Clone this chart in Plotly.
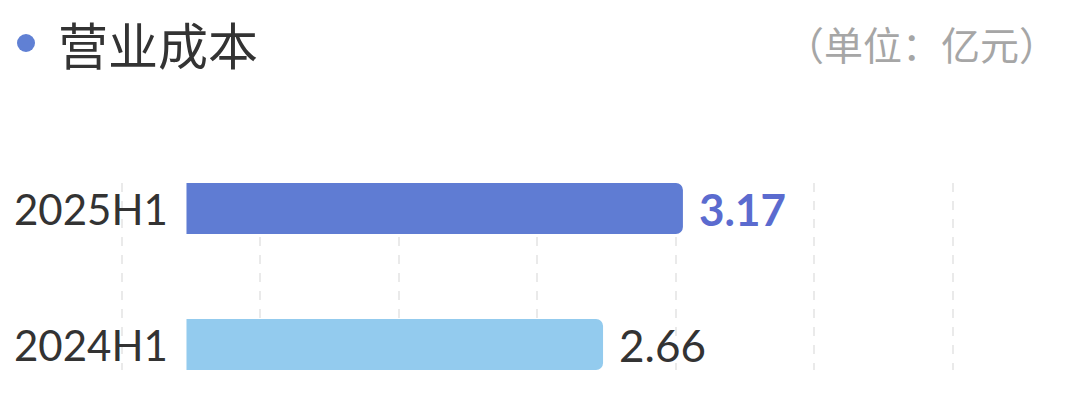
import plotly.graph_objects as go

# ── Data ─────────────────────────────────────────────────────────────────────
periods = ["2024H1", "2025H1"]
costs = [2.66, 3.17]
bar_colors = ["#93CBEE", "#5F7CD3"]
label_colors = ["#333333", "#5B6BCF"]
label_weights = ["normal", "bold"]

title_text = "营业成本"
unit_text = "（单位：亿元）"

# decorative dashed grid: spacing is not tied to data units in the original
x_lo, x_hi = -0.4757, 4.9585
grid_start, grid_step = -0.412, 0.8844

NUM_FONT = "Lato, 'Noto Sans CJK SC', sans-serif"
CJK_FONT = "'Noto Sans CJK SC', sans-serif"

# page body has an 8px margin; plot area sits at 112..963 x 183..370 on screen
OFF = 8
L, T, PW, PH = 112 - OFF, 183 - OFF, 851, 187
W, H = 1070 - OFF, 400 - OFF


def px_to_paper(px, py):
    return (px - OFF - L) / PW, (T + PH - (py - OFF)) / PH


fig = go.Figure()

fig.add_trace(
    go.Bar(
        x=costs,
        y=periods,
        orientation="h",
        width=0.375,
        marker=dict(color=bar_colors, line=dict(width=0)),
        hoverinfo="skip",
    )
)

# ── Value labels (right of bar end) ──────────────────────────────────────────
for p, v, c, w in zip(periods, costs, label_colors, label_weights):
    fig.add_annotation(
        x=v, y=p, xref="x", yref="y",
        text=f"{v:.2f}",
        showarrow=False,
        xanchor="left", yanchor="middle",
        xshift=14,
        font=dict(family=NUM_FONT, size=44, color=c, weight=w),
    )

# ── Category labels (left of zero) ───────────────────────────────────────────
for p in periods:
    fig.add_annotation(
        x=0, y=p, xref="x", yref="y",
        text=p,
        showarrow=False,
        xanchor="right", yanchor="middle",
        xshift=-16,
        font=dict(family=NUM_FONT, size=42, color="#333333"),
    )

# ── Header: dot, title, unit ─────────────────────────────────────────────────
dx, dy = px_to_paper(26, 43)
fig.add_shape(
    type="circle",
    xref="paper", yref="paper",
    xsizemode="pixel", ysizemode="pixel",
    xanchor=dx, yanchor=dy,
    x0=-9, x1=9, y0=-9, y1=9,
    fillcolor="#6080D4", line=dict(width=0),
)
tx, ty = px_to_paper(56, 43)
fig.add_annotation(
    x=tx, y=ty, xref="paper", yref="paper",
    text=title_text, showarrow=False,
    xanchor="left", yanchor="middle",
    font=dict(family=CJK_FONT, size=50, color="#333333"),
)
ux, uy = px_to_paper(1060, 43)
fig.add_annotation(
    x=ux, y=uy, xref="paper", yref="paper",
    text=unit_text, showarrow=False,
    xanchor="right", yanchor="middle",
    font=dict(family=CJK_FONT, size=39, color="#A6A6A6"),
)

fig.update_layout(
    width=W, height=H, autosize=False,
    margin=dict(l=L, r=W - L - PW, t=T, b=H - T - PH),
    paper_bgcolor="white",
    plot_bgcolor="white",
    showlegend=False,
    barcornerradius=7,
)
fig.update_xaxes(
    range=[x_lo, x_hi],
    tick0=grid_start, dtick=grid_step,
    showgrid=True, gridcolor="#EAEAEA", gridwidth=2, griddash="dash",
    zeroline=False, showticklabels=False, showline=False, ticks="",
)
fig.update_yaxes(
    range=[-0.1875, 1.1875],
    showgrid=False, zeroline=False, showticklabels=False, showline=False, ticks="",
)

fig.write_html("out.html")
